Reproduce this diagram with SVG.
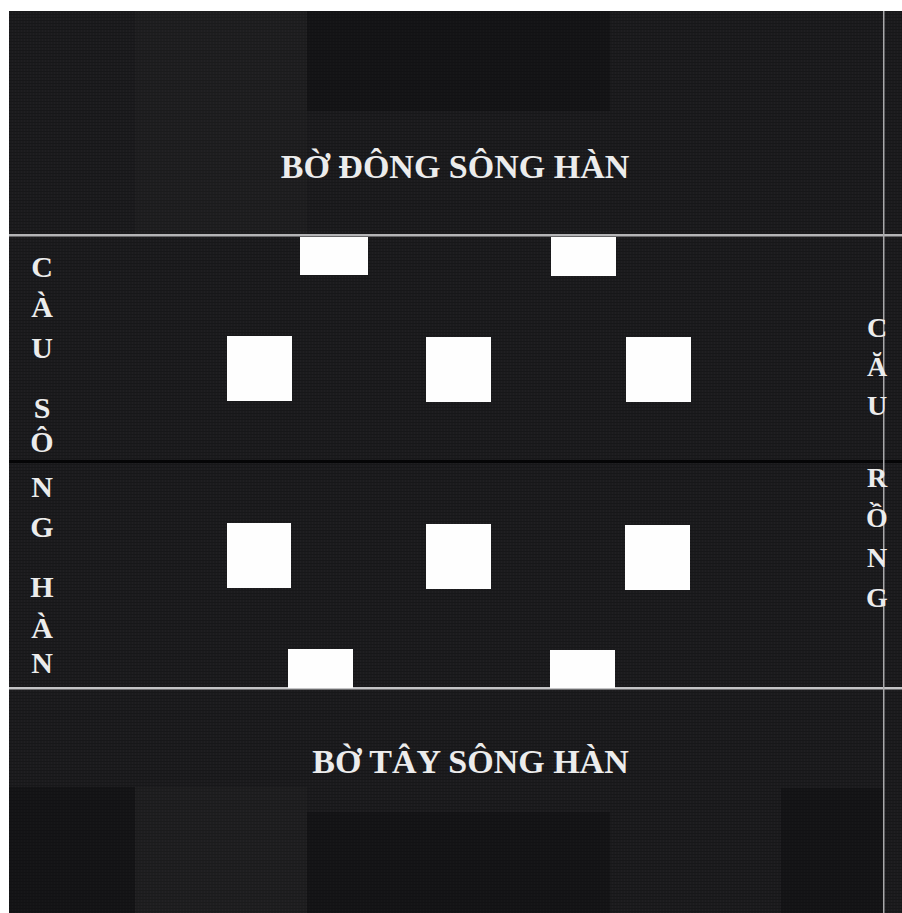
<svg xmlns="http://www.w3.org/2000/svg" width="902" height="913" viewBox="0 0 902 913">
<defs>
<pattern id="weave" width="3" height="3" patternUnits="userSpaceOnUse">
<rect width="3" height="3" fill="#1b1b1d"/>
<rect width="1" height="3" fill="#201f22"/>
<rect y="2" width="3" height="1" fill="#171719"/>
</pattern>
</defs>
<style>
.lbl{font-family:"Liberation Serif","Times New Roman",serif;font-weight:bold;fill:#ececec}
.h{font-size:34px;text-anchor:middle}
.v{font-size:30px;text-anchor:middle}
.v2{font-size:28px;text-anchor:middle}
.sq{fill:#fefefe}
.dk{fill:#0e0e10;opacity:0.45}
.lt{fill:#3a3a3c;opacity:0.12}
</style>
<rect width="902" height="913" fill="#ffffff"/>
<g id="background">
<rect x="9" y="11" width="893" height="902" fill="url(#weave)"/>
<rect class="lt" x="135" y="11" width="172" height="224"/>
<rect class="dk" x="307" y="11" width="303" height="100"/>
<rect class="dk" x="9" y="787" width="126" height="126"/>
<rect class="lt" x="135" y="787" width="172" height="126"/>
<rect class="dk" x="307" y="812" width="303" height="101"/>
<rect class="dk" x="781" y="788" width="103" height="125"/>
</g>
<g id="lines">
<rect x="9" y="234" width="893" height="2.5" fill="#b4b4b6"/>
<rect x="9" y="460" width="893" height="3" fill="#050506"/>
<rect x="9" y="687" width="893" height="2.5" fill="#c4c4c6"/>
<rect x="883" y="11" width="1.5" height="902" fill="#a8a8aa"/>
</g>
<g id="squares">
<rect class="sq" x="300" y="237" width="68" height="38"/>
<rect class="sq" x="551" y="237" width="65" height="39"/>
<rect class="sq" x="227" y="336" width="65" height="65"/>
<rect class="sq" x="426" y="337" width="65" height="65"/>
<rect class="sq" x="626" y="337" width="65" height="65"/>
<rect class="sq" x="227" y="523" width="64" height="65"/>
<rect class="sq" x="426" y="524" width="65" height="65"/>
<rect class="sq" x="625" y="525" width="65" height="65"/>
<rect class="sq" x="288" y="649" width="65" height="39"/>
<rect class="sq" x="550" y="650" width="65" height="38"/>
</g>
<g id="label-east">
<text class="lbl h" x="455" y="178">BỜ ĐÔNG SÔNG HÀN</text>
</g>
<g id="label-west">
<text class="lbl h" x="470.5" y="773">BỜ TÂY SÔNG HÀN</text>
</g>
<g id="label-song-han-bridge" class="lbl v">
<text x="42" y="277">C</text>
<text x="42" y="317">À</text>
<text x="42" y="358">U</text>
<text x="42" y="418">S</text>
<text x="42" y="452">Ô</text>
<text x="42" y="497">N</text>
<text x="42" y="537">G</text>
<text x="42" y="597">H</text>
<text x="42" y="638">À</text>
<text x="42" y="673">N</text>
</g>
<g id="label-dragon-bridge" class="lbl v2">
<text x="877" y="337">C</text>
<text x="877" y="376">Ă</text>
<text x="877" y="415">U</text>
<text x="877" y="487">R</text>
<text x="877" y="527">Ồ</text>
<text x="877" y="567">N</text>
<text x="877" y="607">G</text>
</g>
</svg>
